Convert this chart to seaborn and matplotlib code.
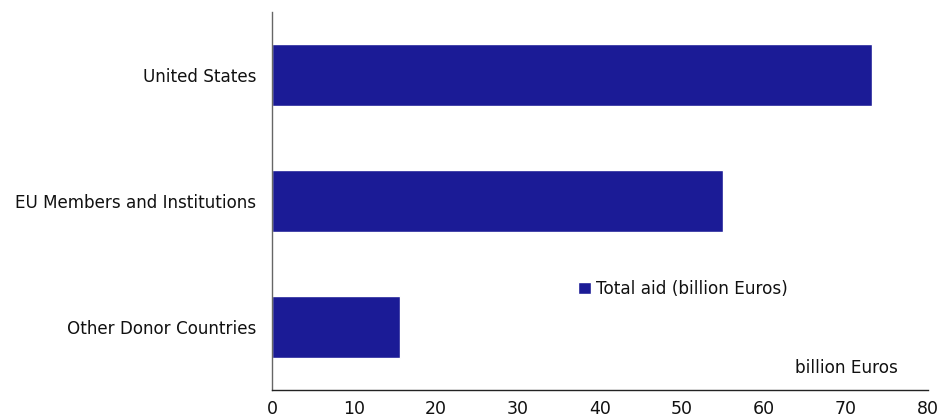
import matplotlib
matplotlib.use("Agg")
import matplotlib.pyplot as plt
import seaborn as sns
import pandas as pd

categories = ["United States", "EU Members and Institutions", "Other Donor Countries"]
values = [73.2, 55.0, 15.6]
series_name = "Total aid (billion Euros)"
x_ticks = [0, 10, 20, 30, 40, 50, 60, 70, 80]

df = pd.DataFrame({"donor": categories, "aid": values})

sns.set_style("white")
plt.rcParams['font.family'] = ['DejaVu Sans']
plt.rcParams['text.color'] = '#111111'
plt.rcParams['xtick.color'] = '#111111'
plt.rcParams['ytick.color'] = '#111111'

fig = plt.figure(figsize=(9.41, 4.19), dpi=100)
ax = fig.add_axes([272/941, 1-390/419, (928-272)/941, (390-12)/419])

sns.barplot(data=df, x="aid", y="donor", orient="h", color="#1B1B96",
            width=0.49, saturation=1, label=series_name, ax=ax)

ax.set_xlim(0, 80)
ax.set_ylim(2.5, -0.5)
ax.set_xticks(x_ticks)
ax.set_xticklabels([str(t) for t in x_ticks], fontsize=12.5)
ax.tick_params(axis="x", direction="out", length=5, width=1, color="#222222", pad=2)
ax.tick_params(axis="y", length=0, labelsize=12.1, pad=11.5)
ax.set_xlabel("")
ax.set_ylabel("")
for s in ["top", "right"]:
    ax.spines[s].set_visible(False)
ax.spines["left"].set_color("#666666")
ax.spines["left"].set_linewidth(1)
ax.spines["bottom"].set_color("#222222")
ax.spines["bottom"].set_linewidth(1)

leg = ax.legend(loc="center left", bbox_to_anchor=((578-272)/656, (390-289)/378),
                frameon=False, fontsize=12.2, handlelength=0.75, handleheight=0.75,
                handletextpad=0.3, borderpad=0, borderaxespad=0)

ax.text((898-272)/656, (390-368)/378, "billion Euros", transform=ax.transAxes,
        ha="right", va="center", fontsize=12.2)

fig.savefig("out.png", dpi=100)
